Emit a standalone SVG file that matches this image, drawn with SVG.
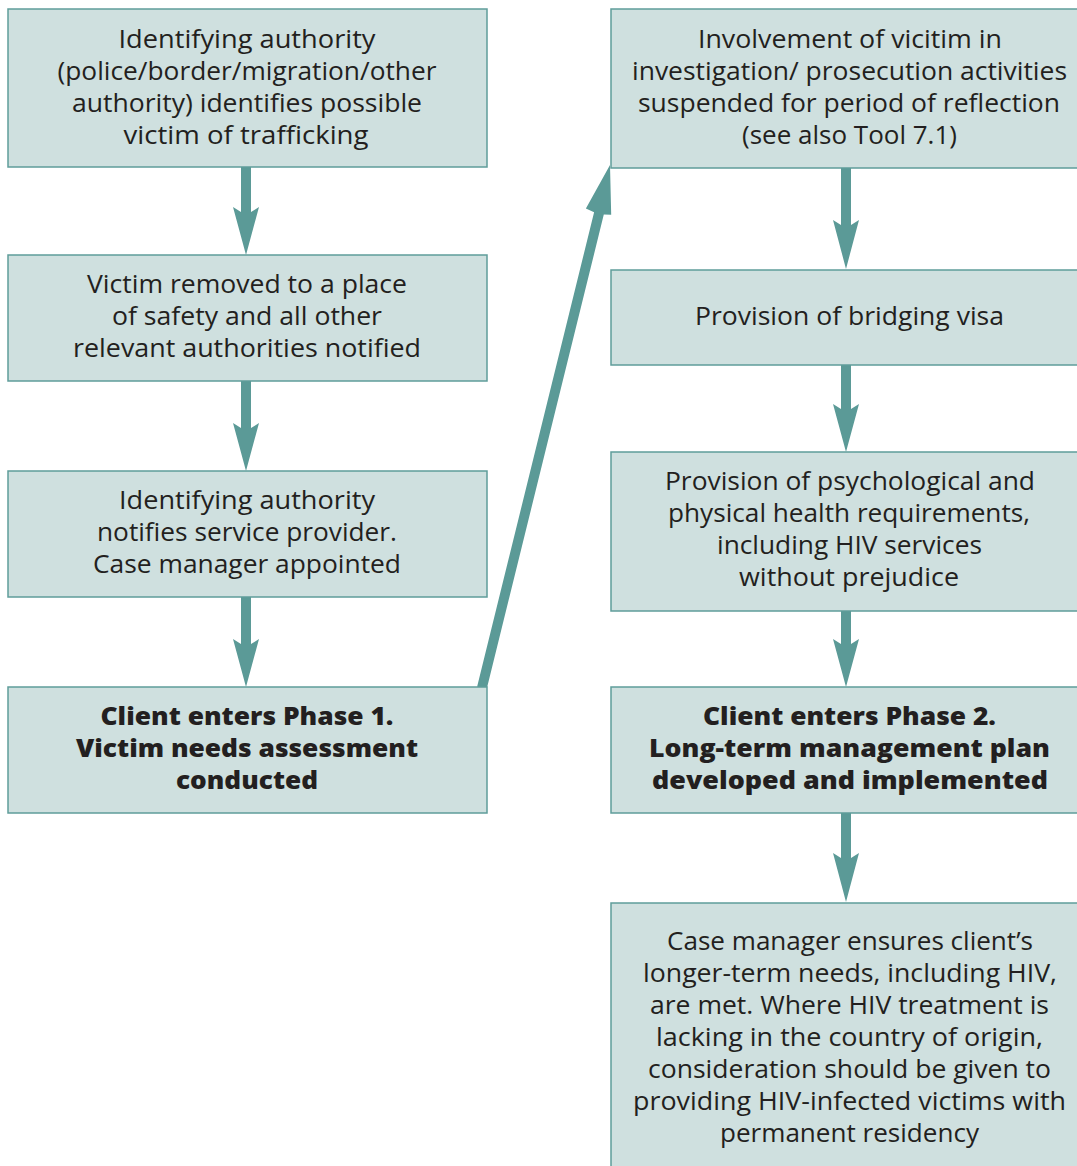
<svg xmlns="http://www.w3.org/2000/svg" width="1077" height="1166" viewBox="0 0 1077 1166">
<style>
.box{fill:#cfe0df;stroke:#5f9d9a;stroke-width:1.5}
.arrow{fill:#5b9a97}
text{font-family:"Open Sans","Noto Sans","Liberation Sans",sans-serif;font-size:25px;fill:#231f20;text-anchor:middle}
.b{font-weight:800}
</style>
<rect width="1077" height="1166" fill="#ffffff"/>
<g id="connectors">
<polygon class="arrow" points="241,167 251,167 251,212 259,207 246,255 233,207 241,212"/>
<polygon class="arrow" points="241,381 251,381 251,428 259,423 246,471 233,423 241,428"/>
<polygon class="arrow" points="241,597 251,597 251,644 259,639 246,687 233,639 241,644"/>
<polygon class="arrow" points="841,168 851,168 851,225 859,220 846,269 833,220 841,225"/>
<polygon class="arrow" points="841,365 851,365 851,409 859,404 846,452 833,404 841,409"/>
<polygon class="arrow" points="841,611 851,611 851,644 859,639 846,687 833,639 841,644"/>
<polygon class="arrow" points="841,813 851,813 851,858 859,853 846,902 833,853 841,858"/>
<polygon class="arrow" points="477.1,686.8 486.9,688.2 603.8,214.6 611.2,214.7 610,165 585.9,208.5 594.1,212.2"/>
</g>
<g id="n1">
<rect class="box" x="8" y="9" width="479" height="158"/>
<text x="247" y="48" textLength="257" lengthAdjust="spacingAndGlyphs">Identifying authority</text>
<text x="247" y="80" textLength="379" lengthAdjust="spacingAndGlyphs">(police/border/migration/other</text>
<text x="247" y="112" textLength="350" lengthAdjust="spacingAndGlyphs">authority) identifies possible</text>
<text x="246" y="144" textLength="245" lengthAdjust="spacingAndGlyphs">victim of trafficking</text>
</g>
<g id="n2">
<rect class="box" x="8" y="255" width="479" height="126"/>
<text x="247" y="293" textLength="320" lengthAdjust="spacingAndGlyphs">Victim removed to a place</text>
<text x="247" y="325" textLength="270" lengthAdjust="spacingAndGlyphs">of safety and all other</text>
<text x="247" y="357" textLength="348" lengthAdjust="spacingAndGlyphs">relevant authorities notified</text>
</g>
<g id="n3">
<rect class="box" x="8" y="471" width="479" height="126"/>
<text x="247" y="509" textLength="256" lengthAdjust="spacingAndGlyphs">Identifying authority</text>
<text x="247" y="541" textLength="300" lengthAdjust="spacingAndGlyphs">notifies service provider.</text>
<text x="247" y="573" textLength="308" lengthAdjust="spacingAndGlyphs">Case manager appointed</text>
</g>
<g id="n4">
<rect class="box" x="8" y="687" width="479" height="126"/>
<text class="b" x="247" y="725" textLength="293" lengthAdjust="spacingAndGlyphs">Client enters Phase 1.</text>
<text class="b" x="247" y="757" textLength="342" lengthAdjust="spacingAndGlyphs">Victim needs assessment</text>
<text class="b" x="247" y="789" textLength="142" lengthAdjust="spacingAndGlyphs">conducted</text>
</g>
<g id="r1">
<rect class="box" x="611" y="9" width="480" height="159"/>
<text x="850" y="48" textLength="304" lengthAdjust="spacingAndGlyphs">Involvement of vicitim in</text>
<text x="849.5" y="80" textLength="435" lengthAdjust="spacingAndGlyphs">investigation/ prosecution activities</text>
<text x="849" y="112" textLength="422" lengthAdjust="spacingAndGlyphs">suspended for period of reflection</text>
<text x="849.5" y="144" textLength="215" lengthAdjust="spacingAndGlyphs">(see also Tool 7.1)</text>
</g>
<g id="r2">
<rect class="box" x="611" y="270" width="480" height="95"/>
<text x="849.5" y="325" textLength="309" lengthAdjust="spacingAndGlyphs">Provision of bridging visa</text>
</g>
<g id="r3">
<rect class="box" x="611" y="452" width="480" height="159"/>
<text x="850" y="490" textLength="370" lengthAdjust="spacingAndGlyphs">Provision of psychological and</text>
<text x="849" y="522" textLength="362" lengthAdjust="spacingAndGlyphs">physical health requirements,</text>
<text x="849.5" y="554" textLength="265" lengthAdjust="spacingAndGlyphs">including HIV services</text>
<text x="849" y="586" textLength="220" lengthAdjust="spacingAndGlyphs">without prejudice</text>
</g>
<g id="r4">
<rect class="box" x="611" y="687" width="480" height="126"/>
<text class="b" x="849.5" y="725" textLength="293" lengthAdjust="spacingAndGlyphs">Client enters Phase 2.</text>
<text class="b" x="849.5" y="757" textLength="401" lengthAdjust="spacingAndGlyphs">Long-term management plan</text>
<text class="b" x="850" y="789" textLength="396" lengthAdjust="spacingAndGlyphs">developed and implemented</text>
</g>
<g id="r5">
<rect class="box" x="611" y="903" width="480" height="280"/>
<text x="850" y="950" textLength="366" lengthAdjust="spacingAndGlyphs">Case manager ensures client’s</text>
<text x="850" y="982" textLength="414" lengthAdjust="spacingAndGlyphs">longer-term needs, including HIV,</text>
<text x="849.5" y="1014" textLength="399" lengthAdjust="spacingAndGlyphs">are met. Where HIV treatment is</text>
<text x="849.5" y="1046" textLength="387" lengthAdjust="spacingAndGlyphs">lacking in the country of origin,</text>
<text x="849.5" y="1078" textLength="403" lengthAdjust="spacingAndGlyphs">consideration should be given to</text>
<text x="849.5" y="1110" textLength="433" lengthAdjust="spacingAndGlyphs">providing HIV-infected victims with</text>
<text x="849.5" y="1142" textLength="259" lengthAdjust="spacingAndGlyphs">permanent residency</text>
</g>
</svg>
